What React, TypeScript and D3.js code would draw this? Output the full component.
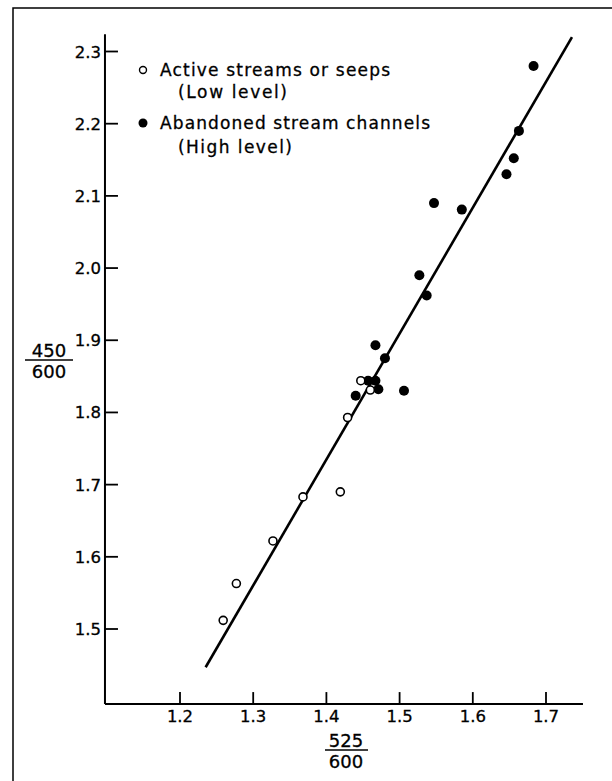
import React from "react";
import * as d3 from "d3";

const xTicks = [1.2, 1.3, 1.4, 1.5, 1.6, 1.7];
const yTicks = [1.5, 1.6, 1.7, 1.8, 1.9, 2.0, 2.1, 2.2, 2.3];

const activeX = [1.259, 1.277, 1.327, 1.368, 1.419, 1.429, 1.447, 1.46];
const activeY = [1.512, 1.563, 1.622, 1.683, 1.69, 1.793, 1.844, 1.831];

const abandonedX = [1.44, 1.457, 1.467, 1.471, 1.467, 1.48, 1.506, 1.527, 1.537, 1.547, 1.585, 1.646, 1.656, 1.663, 1.683];
const abandonedY = [1.823, 1.844, 1.844, 1.832, 1.893, 1.875, 1.83, 1.99, 1.962, 2.09, 2.081, 2.13, 2.152, 2.19, 2.28];

const fitX = [1.235, 1.7355];
const fitY = [1.447, 2.32];

const xAxisExtent = [1.0975, 1.7505];
const yAxisExtent = [1.396, 2.324];

const legendLabels = ["Active streams or seeps", "(Low level)", "Abandoned stream channels", "(High level)"];

const FONT = "'DejaVu Sans', sans-serif";

export default function App() {
  const x = d3.scaleLinear().domain([1.2, 1.7]).range([180, 546]);
  const y = d3.scaleLinear().domain([1.5, 2.3]).range([629, 51.5]);
  const fmt = d3.format(".1f");
  const line = d3
    .line<number>()
    .x((d) => x(fitX[d]))
    .y((d) => y(fitY[d]));

  const axisY0 = y(yAxisExtent[0]);
  const axisX0 = x(xAxisExtent[0]);

  return (
    <svg
      width={612}
      height={781}
      style={{ position: "absolute", left: 0, top: 0, background: "#fff" }}
      fontFamily={FONT}
    >
      <rect x={0} y={0} width={612} height={781} fill="#fff" />
      {/* frame */}
      <path d="M13,781 L13,8 L612,8" fill="none" stroke="#000" strokeWidth={1.5} />

      {/* axes */}
      <line x1={axisX0} x2={axisX0} y1={y(yAxisExtent[1])} y2={axisY0} stroke="#000" strokeWidth={2} />
      <line x1={axisX0} x2={x(xAxisExtent[1])} y1={axisY0} y2={axisY0} stroke="#000" strokeWidth={2} />

      {yTicks.map((t) => (
        <g key={"y" + t}>
          <line x1={axisX0} x2={axisX0 + 13} y1={y(t)} y2={y(t)} stroke="#000" strokeWidth={1.8} />
          <text x={axisX0 - 4} y={y(t) + 6} fontSize={16.5} textAnchor="end" fill="#000" stroke="#000" strokeWidth={0.3}>
            {fmt(t)}
          </text>
        </g>
      ))}
      {xTicks.map((t) => (
        <g key={"x" + t}>
          <line x1={x(t)} x2={x(t)} y1={axisY0} y2={axisY0 - 12} stroke="#000" strokeWidth={1.8} />
          <text x={x(t)} y={722} fontSize={16.5} textAnchor="middle" fill="#000" stroke="#000" strokeWidth={0.3}>
            {fmt(t)}
          </text>
        </g>
      ))}

      {/* axis titles as fractions */}
      <g fontSize={18} textAnchor="middle" fill="#000" stroke="#000" strokeWidth={0.3}>
        <text x={346} y={747}>525</text>
        <line x1={325} x2={368} y1={750} y2={750} stroke="#000" strokeWidth={1.6} />
        <text x={346} y={768}>600</text>

        <text x={49} y={357}>450</text>
        <line x1={25} x2={73} y1={360} y2={360} stroke="#000" strokeWidth={1.6} />
        <text x={49} y={378}>600</text>
      </g>

      {/* fit line */}
      <path d={line([0, 1]) || ""} fill="none" stroke="#000" strokeWidth={2.6} />

      {/* points */}
      {abandonedX.map((v, i) => (
        <circle key={"b" + i} cx={x(v)} cy={y(abandonedY[i])} r={5} fill="#000" />
      ))}
      {activeX.map((v, i) => (
        <circle key={"a" + i} cx={x(v)} cy={y(activeY[i])} r={4} fill="#fff" stroke="#000" strokeWidth={1.6} />
      ))}

      {/* legend */}
      <g fontSize={17} fill="#000" stroke="#000" strokeWidth={0.3}>
        <circle cx={143} cy={70} r={3.5} fill="#fff" stroke="#000" strokeWidth={1.4} />
        <text x={160} y={76} textLength={230} lengthAdjust="spacing">
          {legendLabels[0]}
        </text>
        <text x={178} y={98} textLength={109} lengthAdjust="spacing">
          {legendLabels[1]}
        </text>
        <circle cx={143} cy={123} r={4.5} fill="#000" stroke="none" />
        <text x={160} y={129} textLength={270} lengthAdjust="spacing">
          {legendLabels[2]}
        </text>
        <text x={178} y={153} textLength={114} lengthAdjust="spacing">
          {legendLabels[3]}
        </text>
      </g>
    </svg>
  );
}
